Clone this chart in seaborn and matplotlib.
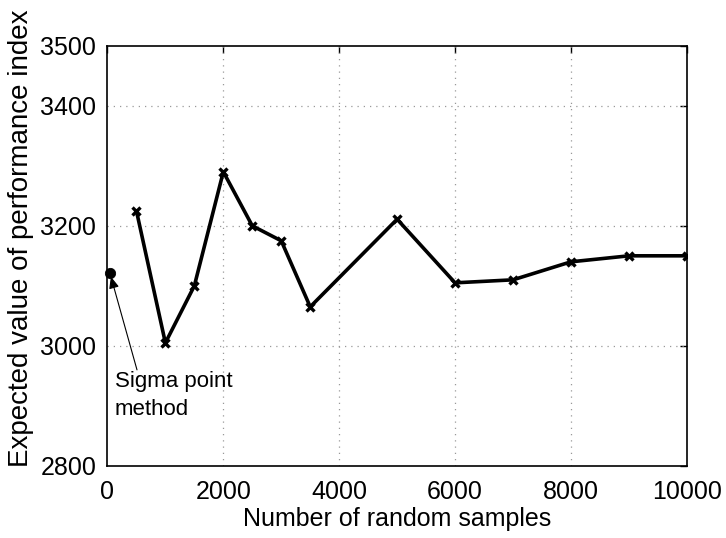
import numpy as np
import pandas as pd
import matplotlib
matplotlib.use("Agg")
import matplotlib.pyplot as plt
import seaborn as sns


# =============================================================================
# Data
# =============================================================================

samples = [500, 1000, 1500, 2000, 2500, 3000, 3500, 5000, 6000, 7000, 8000, 9000, 10000]
expected_value = [3225, 3005, 3100, 3290, 3200, 3175, 3065, 3211, 3105, 3110, 3140, 3150, 3150]

sigma_x = [40]
sigma_y = [3122]

x_ticks = [0, 2000, 4000, 6000, 8000, 10000]
y_ticks = [2800, 3000, 3200, 3400, 3500]
grid_y = [3000, 3200, 3400]


# =============================================================================
# Figure
# =============================================================================

sns.set_style("white")
plt.rcParams["font.family"] = ["Liberation Sans", "DejaVu Sans"]
plt.rcParams["text.color"] = "black"
plt.rcParams["axes.labelcolor"] = "black"
plt.rcParams["xtick.color"] = "black"
plt.rcParams["ytick.color"] = "black"

fig, ax = plt.subplots(figsize=(7.26, 5.38), dpi=100)
fig.subplots_adjust(left=0.148, right=0.946, top=0.915, bottom=0.134)

df = pd.DataFrame({"n": samples, "value": expected_value})

sns.lineplot(
    data=df,
    x="n",
    y="value",
    color="black",
    linewidth=2.6,
    marker="x",
    markersize=6,
    markeredgewidth=2.4,
    markeredgecolor="black",
    ax=ax,
    zorder=3,
)

sns.scatterplot(
    x=sigma_x,
    y=sigma_y,
    color="black",
    s=55,
    edgecolor="black",
    ax=ax,
    zorder=4,
    clip_on=False,
)

# dotted grid
for xv in x_ticks[1:-1]:
    ax.axvline(xv, color="#999999", linestyle=(0, (1, 4)), linewidth=0.9, zorder=1)
for yv in grid_y:
    ax.axhline(yv, color="#999999", linestyle=(0, (1, 4)), linewidth=0.9, zorder=1)

ax.set_xlim(0, 10000)
ax.set_ylim(2800, 3500)
ax.set_xticks(x_ticks)
ax.set_yticks(y_ticks)
ax.tick_params(
    direction="in",
    length=5,
    width=1,
    labelsize=18,
    top=True,
    right=True,
)
ax.tick_params(axis="x", pad=10)
ax.tick_params(axis="y", pad=8)

for side in ax.spines.values():
    side.set_color("black")
    side.set_linewidth(1.2)

ax.set_xlabel("Number of random samples", fontsize=18, labelpad=2)
ax.set_ylabel("Expected value of performance index", fontsize=20)
ax.yaxis.set_label_coords(-0.126, 0.543)

# annotation for the sigma point
ax.annotate(
    "",
    xy=(sigma_x[0], sigma_y[0]),
    xytext=(510, 2960),
    arrowprops=dict(
        arrowstyle="-|>,head_length=0.7,head_width=0.3",
        color="black",
        lw=0.8,
        shrinkA=0,
        shrinkB=3,
    ),
)
ax.text(
    128,
    2958,
    "Sigma point\nmethod",
    fontsize=16,
    va="top",
    ha="left",
    linespacing=1.45,
)

plt.savefig("out.png", dpi=100)
